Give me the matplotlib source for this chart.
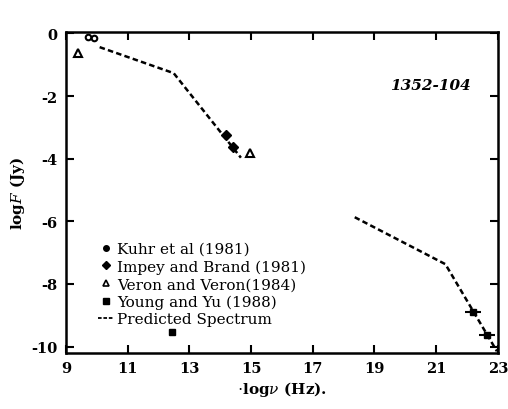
import numpy as np
import matplotlib.pyplot as plt
from matplotlib.lines import Line2D

plt.rcParams['font.family'] = ['DejaVu Serif']
plt.rcParams['mathtext.fontset'] = 'dejavuserif'
plt.rcParams['axes.unicode_minus'] = False

# observed points, log nu (Hz) and log F (Jy)
kuhr_nu = [9.72, 9.90]
kuhr_f = [-0.12, -0.15]
impey_nu = [14.19, 14.42]
impey_f = [-3.24, -3.62]
veron_nu = [9.38, 14.96]
veron_f = [-0.63, -3.82]
young_nu = [22.20, 22.65, 12.43]
young_f = [-8.89, -9.62, -9.52]
young_xerr = [0.25, 0.25, 0.0]

# predicted spectrum, two pieces
pred1_nu = [10.09, 12.49, 14.67]
pred1_f = [-0.44, -1.27, -3.97]
pred2_nu = [18.36, 21.30, 22.97]
pred2_f = [-5.87, -7.37, -10.15]

xticks = [9, 11, 13, 15, 17, 19, 21, 23]
yticks = [0, -2, -4, -6, -8, -10]

fig = plt.figure(figsize=(5.08, 4.10), dpi=100)
ax = fig.add_axes([0.130, 0.137, 0.850, 0.783])

dash = dict(color='black', lw=1.8, linestyle=(0, (2.2, 1.3)))
ax.plot(pred1_nu, pred1_f, **dash)
ax.plot(pred2_nu, pred2_f, **dash)

ax.plot(kuhr_nu, kuhr_f, 'o', ms=4, mfc='none', mec='black', mew=1.5)
ax.plot(impey_nu, impey_f, 'D', ms=5, color='black')
ax.plot(veron_nu, veron_f, '^', ms=6, mfc='white', mec='black', mew=1.5)
ax.errorbar(young_nu, young_f, xerr=young_xerr, fmt='s', ms=5,
            color='black', ecolor='black', elinewidth=1.5, capsize=0)

ax.text(20.8, -1.65, '1352-104', fontsize=11, style='italic',
        fontweight='bold', ha='center', va='center')

ax.set_xlim(9, 23)
ax.set_ylim(-10.2, 0.05)
ax.set_xticks(xticks)
ax.set_yticks(yticks)
ax.set_xticklabels([str(t) for t in xticks], fontsize=10.5, fontweight='bold')
ax.set_yticklabels([str(t) for t in yticks], fontsize=10.5, fontweight='bold')
ax.tick_params(direction='in', length=6, width=1.5, top=True, right=True,
               labeltop=False, labelright=False, pad=6)
for s in ax.spines.values():
    s.set_linewidth(1.8)

ax.set_xlabel(r'$\cdot$log$\nu$ (Hz).', fontsize=11, fontweight='bold', labelpad=3)
ax.set_ylabel('log$F$ (Jy)', fontsize=11, fontweight='bold', labelpad=3)

handles = [
    Line2D([], [], marker='o', ls='none', color='black', ms=4),
    Line2D([], [], marker='D', ls='none', color='black', ms=4),
    Line2D([], [], marker='^', ls='none', mfc='white', mec='black', mew=1.2, ms=5),
    Line2D([], [], marker='s', ls='none', color='black', ms=4),
    Line2D([], [], color='black', lw=1.3, linestyle=(0, (2, 1))),
]
labels = ['Kuhr et al (1981)', 'Impey and Brand (1981)', 'Veron and Veron(1984)',
          'Young and Yu (1988)', 'Predicted Spectrum']
ax.legend(handles, labels, loc='upper left', bbox_to_anchor=(0.075, 0.345),
          frameon=False, fontsize=11, handlelength=1.0, handletextpad=0.2,
          labelspacing=0.22, borderpad=0, borderaxespad=0)

fig.savefig('out.png', dpi=100)
